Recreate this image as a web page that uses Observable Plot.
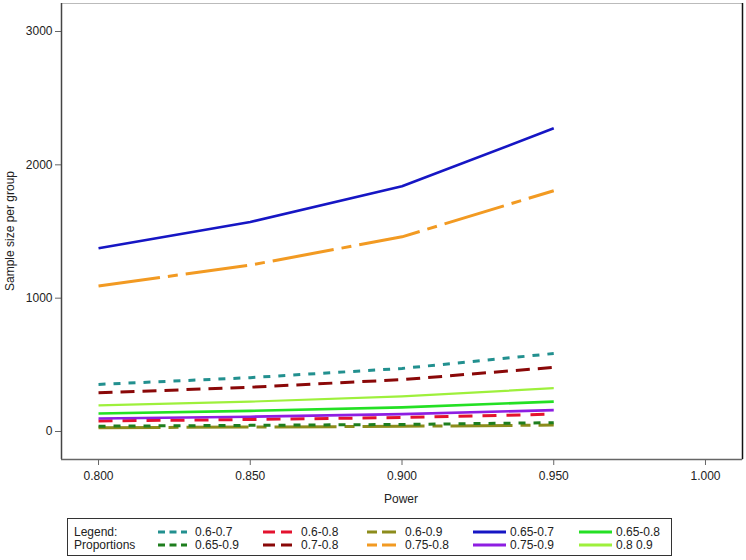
<!DOCTYPE html>
<html>
<head>
<meta charset="utf-8">
<script src="https://cdn.jsdelivr.net/npm/d3@7"></script>
<script src="https://cdn.jsdelivr.net/npm/@observablehq/plot@0.6"></script>
<style>
  body { margin: 0; background: #fff; font-family: "Liberation Sans", Arial, sans-serif; }
  #wrap { position: relative; width: 746px; height: 560px; overflow: hidden; }
  #chart svg { display: block; }
  .lbl { position: absolute; font-size: 12px; color: #222; white-space: nowrap; }
  #legend { position: absolute; left: 67px; top: 518px; width: 603px; height: 36px; border: 1px solid #333; background: #fff; }
  #legend .t { position: absolute; font-size: 12px; color: #222; white-space: nowrap; line-height: 12px; }
  #legend svg { position: absolute; }
</style>
</head>
<body>
<div id="wrap">
  <div id="chart"></div>
  <div class="lbl" id="ylab" style="left:10px; top:231px; transform: translate(-50%,-50%) rotate(-90deg);">Sample size per group</div>
  <div class="lbl" id="xlab" style="left:401px; top:499px; transform: translate(-50%,-50%);">Power</div>
  <div id="legend"></div>
</div>
<script>
// ---- data ----
const power = [0.80, 0.85, 0.90, 0.95];
const seriesNames = ["0.6-0.7", "0.6-0.8", "0.6-0.9", "0.65-0.7", "0.65-0.8",
                     "0.65-0.9", "0.7-0.8", "0.75-0.8", "0.75-0.9", "0.8 0.9"];
const s_06_07  = [353, 404, 473, 585];
const s_06_08  = [79, 90, 105, 130];
const s_06_09  = [29, 33, 39, 48];
const s_065_07 = [1374, 1571, 1839, 2274];
const s_065_08 = [135, 155, 181, 224];
const s_065_09 = [40, 46, 53, 66];
const s_07_08  = [290, 332, 389, 481];
const s_075_08 = [1091, 1248, 1460, 1806];
const s_075_09 = [97, 111, 130, 160];
const s_08_09  = [196, 224, 263, 325];
const seriesValues = [s_06_07, s_06_08, s_06_09, s_065_07, s_065_08,
                      s_065_09, s_07_08, s_075_08, s_075_09, s_08_09];
const xTicks = [0.80, 0.85, 0.90, 0.95, 1.00];
const yTicks = [0, 1000, 2000, 3000];

// ---- styles ----
const styles = {
  "0.6-0.7":  {color: "#22908f", dash: "7,8",        width: 3},
  "0.6-0.8":  {color: "#e3122e", dash: "14,10",      width: 3},
  "0.6-0.9":  {color: "#8c8c1c", dash: "62,8,10,8",  width: 3, off: 70},
  "0.65-0.7": {color: "#1616c4", dash: null,         width: 2.6},
  "0.65-0.8": {color: "#24e024", dash: null,         width: 2.6},
  "0.65-0.9": {color: "#1e7e1e", dash: "7,8",        width: 3},
  "0.7-0.8":  {color: "#8a0808", dash: "14,8",       width: 3},
  "0.75-0.8": {color: "#f29a22", dash: "62,8,10,8",  width: 3, off: 70},
  "0.75-0.9": {color: "#8e1ee2", dash: null,         width: 2.6},
  "0.8 0.9":  {color: "#9ef03c", dash: null,         width: 2.2}
};

const rows = [];
seriesNames.forEach((name, i) => {
  power.forEach((p, j) => rows.push({series: name, power: p, n: seriesValues[i][j]}));
});

const lineMarks = seriesNames.map(name => {
  const st = styles[name];
  return Plot.line(rows.filter(d => d.series === name), {
    x: "power", y: "n", stroke: st.color, strokeWidth: st.width,
    strokeDasharray: st.dash || undefined, strokeLinecap: "butt", strokeLinejoin: "round"
  });
});

const chart = Plot.plot({
  width: 746,
  height: 512,
  marginLeft: 61,
  marginRight: 4,
  marginTop: 3,
  marginBottom: 53,
  style: {fontFamily: "Liberation Sans, Arial, sans-serif", fontSize: "12px", color: "#222", background: "#fff"},
  x: {domain: [0.7878, 1.0122], ticks: xTicks, tickFormat: d3.format(".3f"), label: null},
  y: {domain: [-210, 3210], ticks: yTicks, tickFormat: d3.format("d"), label: null},
  marks: [
    Plot.frame({stroke: "#bbb", strokeWidth: 1}),
    Plot.ruleX([1.0122], {stroke: "#111", strokeWidth: 1.5}),
    ...lineMarks,
    Plot.axisX({ticks: xTicks, tickFormat: d3.format(".3f"), tickSize: 6, tickPadding: 6, stroke: "#666", fontSize: 12, label: null}),
    Plot.axisY({ticks: yTicks, tickFormat: d3.format("d"), tickSize: 6, tickPadding: 3, stroke: "#666", fontSize: 12, label: null}),
    Plot.ruleX([0.7878], {stroke: "#444", strokeWidth: 1.5}),
    Plot.ruleY([-210], {stroke: "#666", strokeWidth: 1.5})
  ]
});
document.getElementById("chart").appendChild(chart);

// ---- legend ----
const legend = document.getElementById("legend");
const addText = (txt, x, y) => {
  const d = document.createElement("div");
  d.className = "t"; d.textContent = txt;
  d.style.left = (x - 68) + "px"; d.style.top = (y - 519 - 6) + "px";
  legend.appendChild(d);
};
addText("Legend:", 74, 532);
addText("Proportions", 74, 545);
const colSwatch = [158, 263, 367, 473, 579];
const colText   = [195, 301, 405, 510, 616];
const rowY = [532, 545];
seriesNames.forEach((name, i) => {
  const r = Math.floor(i / 5), c = i % 5;
  const st = styles[name];
  const x0 = colSwatch[c], y = rowY[r];
  const w = st.dash ? 29 : 33;
  const ns = "http://www.w3.org/2000/svg";
  const svg = document.createElementNS(ns, "svg");
  svg.setAttribute("width", w); svg.setAttribute("height", 8);
  svg.style.left = (x0 - 68) + "px"; svg.style.top = (y - 519 - 4) + "px";
  const ln = document.createElementNS(ns, "line");
  ln.setAttribute("x1", 0); ln.setAttribute("x2", w);
  ln.setAttribute("y1", 4); ln.setAttribute("y2", 4);
  ln.setAttribute("stroke", st.color); ln.setAttribute("stroke-width", 3);
  if (st.dash) {
    let d = st.dash;
    if (name === "0.6-0.8" || name === "0.7-0.8") d = "12,6";
    if (name === "0.6-0.7" || name === "0.65-0.9") d = "7,4.5";
    if (st.off) d = "10,5,40,5";
    ln.setAttribute("stroke-dasharray", d);
  }
  svg.appendChild(ln);
  legend.appendChild(svg);
  addText(name, colText[c], y);
});
</script>
</body>
</html>
